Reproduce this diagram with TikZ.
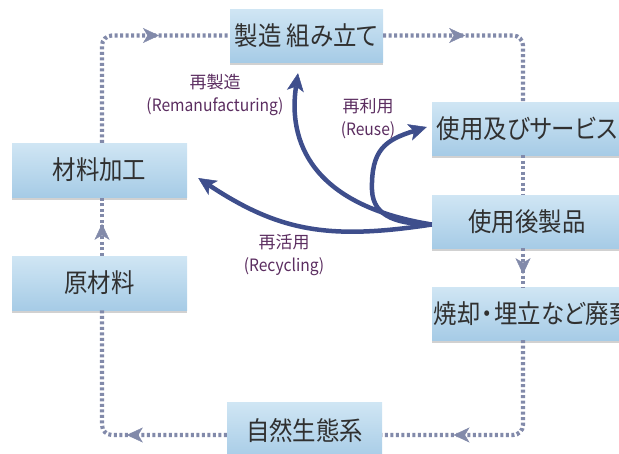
\documentclass[tikz,border=0pt]{standalone}
\usepackage{fontspec}
\setmainfont{Noto Sans CJK JP}
\newfontfamily\boxfont[FakeStretch=0.9,RawFeature=+palt]{Noto Sans CJK JP}
\newfontfamily\lblfont{Noto Sans CJK JP}
\newfontfamily\lbllat[FakeStretch=0.92]{Noto Sans CJK JP}
\usetikzlibrary{arrows.meta,decorations.markings,shadows}
\definecolor{boxtop}{HTML}{D0E6F4}
\definecolor{boxbot}{HTML}{A6CBE6}
\definecolor{dotc}{HTML}{828AAA}
\definecolor{arrc}{HTML}{3E4E8C}
\definecolor{lblc}{HTML}{5B2D60}
\definecolor{txtc}{HTML}{303030}
\begin{document}
\begin{tikzpicture}[x=1pt,y=-1pt,
  box/.style={rectangle, top color=boxtop, bottom color=boxbot, draw=none,
    inner sep=0pt, text=txtc, font=\boxfont\fontsize{26}{30}\selectfont,
    drop shadow={shadow xshift=0pt, shadow yshift=-2.5pt, fill=black, opacity=0.18}},
  loopline/.style={draw=dotc, line width=4.2pt, dash pattern=on 3pt off 2.5pt, rounded corners=10pt},
  midarrow/.style={postaction={decorate, decoration={markings,
      mark=at position #1 with {\arrow[dotc]{Stealth[length=16pt,width=15pt,inset=4.5pt,line width=0.4pt]}}}}},
  solidarr/.style={draw=arrc, line width=4.5pt,
      -{Stealth[length=18pt,width=17pt,inset=4.5pt,line width=0.5pt]}},
  lbl/.style={text=lblc, align=center, font=\lblfont\fontsize{17}{23}\selectfont}
]
\useasboundingbox (0,0) rectangle (619,453);

% boxes
\node[box, minimum width=153pt, minimum height=53pt] (mfg) at (306.5,35.5) {製造 組み立て};
\node[box, minimum width=175pt, minimum height=54pt] (proc) at (99.5,170) {材料加工};
\node[box, minimum width=175pt, minimum height=54pt] (raw) at (99.5,283) {原材料};
\node[box, minimum width=190pt, minimum height=53pt] (use) at (527,128.5) {使用及びサービス};
\node[box, minimum width=190pt, minimum height=53pt] (after) at (527,221.5) {使用後製品};
\node[box, minimum width=190pt, minimum height=53pt, anchor=west, inner xsep=1.5pt] (waste) at (432,313.5) {焼却\hspace{1pt}・\hspace{1pt}埋立など廃棄};
\node[box, minimum width=155pt, minimum height=58pt] (eco) at (304.5,431) {自然生態系};

% reference coordinates of the loop
\coordinate (L) at (102,0);
\coordinate (R) at (523,0);
\coordinate (B) at (0,435);

% dotted loop
\draw[loopline, midarrow=160pt] (proc.north -| L) |- (mfg.west);
\draw[loopline, midarrow=82pt] (mfg.east) -| (use.north -| R);
\draw[loopline] (use.south -| R) -- (after.north -| R);
\draw[loopline, midarrow=26pt] (after.south -| R) -- (waste.north -| R);
\draw[loopline, midarrow=160pt] (waste.south -| R) |- (eco.east |- B);
\draw[loopline, midarrow=100pt] (eco.west |- B) -| (raw.south -| L);
\draw[loopline, midarrow=32pt] (raw.north -| L) -- (proc.south -| L);

% solid arrows
\coordinate (s) at ([yshift=-3pt]after.west);
\coordinate (trc) at ([xshift=11pt,yshift=-8pt]proc.east);
\coordinate (trm) at ([xshift=-8.5pt,yshift=-11pt]mfg.south);
\coordinate (tru) at ([xshift=-5pt,yshift=1.5pt]use.west);
\draw[solidarr] (s) .. controls (330,240) and (280,232) .. (trc);
\draw[solidarr] (s) .. controls (310,205) and (288,140) .. (trm);
\draw[solidarr] (s) .. controls (400,224) and (373,218) .. (372,190)
                    .. controls (371,150) and (385,140) .. (tru);

% labels
\node[lbl] (lrm) at (215,95) {再製造\\{\lbllat(Remanufacturing)}};
\node[lbl] (lru) at (368,118.5) {再利用\\{\lbllat(Reuse)}};
\node[lbl] (lrc) at (284,255) {再活用\\{\lbllat(Recycling)}};
\end{tikzpicture}
\end{document}
